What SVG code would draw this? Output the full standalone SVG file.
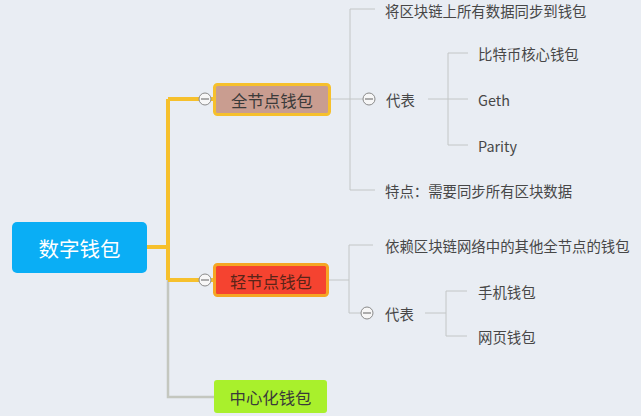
<svg xmlns="http://www.w3.org/2000/svg" width="641" height="416" viewBox="0 0 641 416">
<style>
.bg{fill:#e9edf3}
.thin{fill:none;stroke:#c3c6c6;stroke-width:1}
.yel{fill:none;stroke:#f6c02c;stroke-width:4;stroke-linejoin:miter}
.gry{fill:none;stroke:#c4c7bf;stroke-width:2.5}
.t{font-family:"Noto Sans CJK SC","Noto Sans",sans-serif;font-size:14.4px;fill:#474747;dominant-baseline:central}
.nt{font-family:"Noto Sans CJK SC","Noto Sans",sans-serif;font-size:16.4px;fill:#3a3a3a;text-anchor:middle;dominant-baseline:central}
.col circle{fill:#f7f7f7;stroke:#8a8a8a;stroke-width:1}
.col line{stroke:#7a7a7a;stroke-width:1.2}
</style>
<rect class="bg" x="0" y="0" width="641" height="416"/>
<g id="connectors">
  <path class="gry" d="M147 247 H168 V397 H214"/>
  <path class="yel" d="M147 247 H168 M168 99 V280 M168 99 H213 M168 280 H213"/>
  <path class="thin" d="M330 99 H350 M350 9 V190 M350 9 H375 M350 99 H363 M350 190 H375"/>
  <path class="thin" d="M428 99 H448 M448 53 V145 M448 53 H468 M448 99 H468 M448 145 H468"/>
  <path class="thin" d="M328 280 H349 M349 245 V313 M349 245 H373 M349 313 H361"/>
  <path class="thin" d="M425 313 H446 M446 291 V336 M446 291 H467 M446 336 H467"/>
</g>
<g id="root">
  <rect x="12" y="222" width="135" height="51" rx="5" fill="#0aaef5"/>
  <text class="nt" x="79.5" y="247.5" style="font-size:20.5px;fill:#ffffff">数字钱包</text>
</g>
<g id="full-node">
  <rect x="214.5" y="84.5" width="115" height="30" rx="3" fill="#c99d90" stroke="#f6c02c" stroke-width="3"/>
  <text class="nt" x="272" y="99.5">全节点钱包</text>
  <g class="col"><circle cx="205" cy="99" r="6"/><line x1="201" y1="99" x2="209" y2="99"/></g>
</g>
<g id="light-node">
  <rect x="214.5" y="264.5" width="113" height="31" rx="3" fill="#f54330" stroke="#f5a623" stroke-width="3"/>
  <text class="nt" x="271" y="280.5" style="fill:#5a2418">轻节点钱包</text>
  <g class="col"><circle cx="205" cy="280" r="6"/><line x1="201" y1="280" x2="209" y2="280"/></g>
</g>
<g id="central-node">
  <rect x="214" y="380" width="113" height="33" rx="3" fill="#a9f02c"/>
  <text class="nt" x="270.5" y="397">中心化钱包</text>
</g>
<g id="full-sync"><text class="t" x="385" y="10">将区块链上所有数据同步到钱包</text></g>
<g id="full-rep">
  <g class="col"><circle cx="369" cy="99" r="6"/><line x1="365" y1="99" x2="373" y2="99"/></g>
  <text class="t" x="386" y="99">代表</text>
</g>
<g id="btc"><text class="t" x="478" y="53">比特币核心钱包</text></g>
<g id="geth"><text class="t" x="478" y="99">Geth</text></g>
<g id="parity"><text class="t" x="478" y="145">Parity</text></g>
<g id="full-feature"><text class="t" x="385" y="190">特点：需要同步所有区块数据</text></g>
<g id="light-desc"><text class="t" x="385" y="245">依赖区块链网络中的其他全节点的钱包</text></g>
<g id="light-rep">
  <g class="col"><circle cx="367" cy="313" r="6"/><line x1="363" y1="313" x2="371" y2="313"/></g>
  <text class="t" x="385" y="313">代表</text>
</g>
<g id="mobile"><text class="t" x="478" y="291">手机钱包</text></g>
<g id="web"><text class="t" x="478" y="336">网页钱包</text></g>
</svg>
